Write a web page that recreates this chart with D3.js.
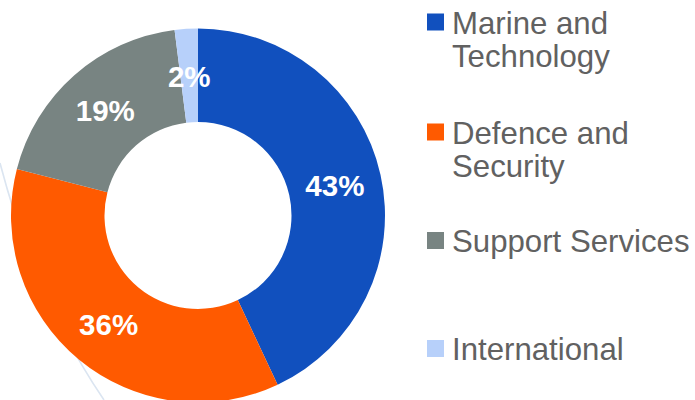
<!DOCTYPE html>
<html>
<head>
<meta charset="utf-8">
<script src="https://cdn.jsdelivr.net/npm/d3@7"></script>
<style>
  html, body { margin: 0; padding: 0; background: #ffffff; }
  svg { display: block; }
</style>
</head>
<body>
<svg id="chart" width="695" height="400"></svg>
<script>
// Segment share of revenue
const segments = ["Marine and Technology", "Defence and Security", "Support Services", "International"];
const shares = [43, 36, 19, 2];
const shareLabels = ["43%", "36%", "19%", "2%"];
const legendLines = [["Marine and", "Technology"], ["Defence and", "Security"], ["Support Services"], ["International"]];
const colors = ["#1150be", "#ff5a00", "#788482", "#b7d0fa"];

const svg = d3.select("#chart");

// faint decorative swoosh in the background
svg.append("path")
  .attr("d", "M0,163 Q36,300 104,400")
  .attr("fill", "none")
  .attr("stroke", "#dbe5f1")
  .attr("stroke-width", 1.6);

const cx = 198, cy = 215.5;
const rOuter = 187, rInner = 93.5;

const color = d3.scaleOrdinal().domain(segments).range(colors);

const pie = d3.pie().sort(null).value(d => d.value);
const data = segments.map((s, i) => ({ name: s, value: shares[i], label: shareLabels[i] }));
const arcs = pie(data);

const arc = d3.arc().innerRadius(rInner).outerRadius(rOuter);

const g = svg.append("g").attr("transform", `translate(${cx},${cy})`);

g.selectAll("path.slice")
  .data(arcs)
  .join("path")
  .attr("class", "slice")
  .attr("d", arc)
  .attr("fill", d => color(d.data.name));

g.selectAll("text.pct")
  .data(arcs)
  .join("text")
  .attr("class", "pct")
  .attr("x", d => arc.centroid(d)[0])
  .attr("y", d => arc.centroid(d)[1] + 11)
  .attr("text-anchor", "middle")
  .attr("fill", "#ffffff")
  .attr("font-family", "Liberation Sans, Arial, sans-serif")
  .attr("font-weight", "bold")
  .attr("font-size", 29.5)
  .text(d => d.data.label);

// legend
const legendTops = [13.5, 123.5, 232, 340];
const lg = svg.append("g");
segments.forEach((s, i) => {
  const top = legendTops[i];
  lg.append("rect")
    .attr("x", 427)
    .attr("y", top)
    .attr("width", 17)
    .attr("height", 17)
    .attr("fill", color(s));
  const t = lg.append("text")
    .attr("x", 452)
    .attr("y", top + 20)
    .attr("fill", "#616161")
    .attr("font-family", "Liberation Sans, Arial, sans-serif")
    .attr("font-size", 31.2);
  legendLines[i].forEach((line, j) => {
    t.append("tspan")
      .attr("x", 452)
      .attr("dy", j === 0 ? 0 : 33.4)
      .text(line);
  });
});
</script>
</body>
</html>
